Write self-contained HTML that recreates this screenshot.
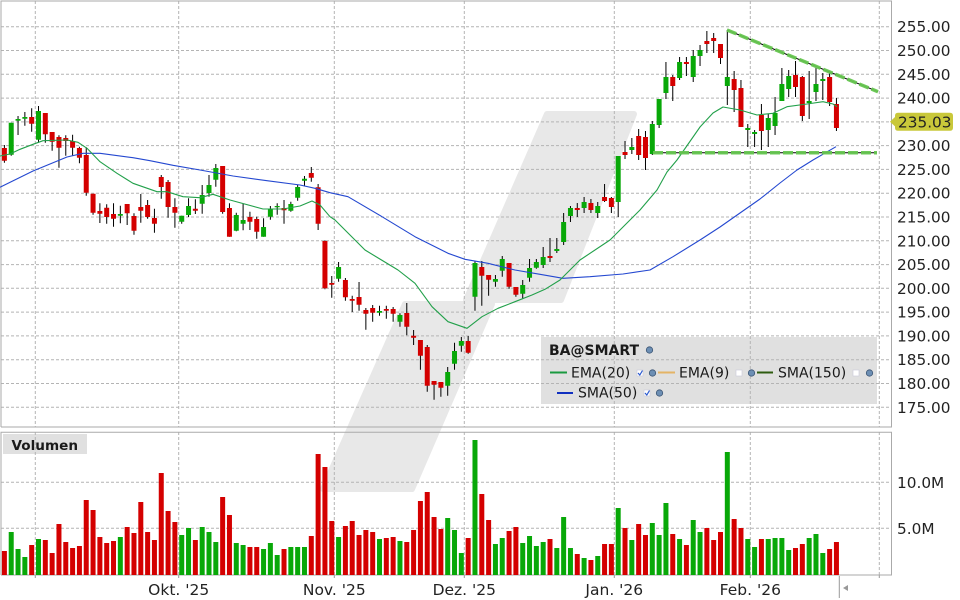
<!DOCTYPE html>
<html><head><meta charset="utf-8"><style>
html,body{margin:0;padding:0;background:#fff;}
svg{display:block;font-family:"DejaVu Sans","Liberation Sans",sans-serif;}
</style></head><body>
<svg width="960" height="600" viewBox="0 0 960 600" xmlns="http://www.w3.org/2000/svg">
<rect width="960" height="600" fill="#fff"/>
<!-- watermark -->
<g fill="#e8e8e8" stroke="#e8e8e8" stroke-width="6" stroke-linejoin="round">
<polygon points="547,114 634,114 561,300 466,300"/>
<polygon points="405,304 492,304 412,489 323,489"/>
</g>
<!-- legend box -->
<rect x="541" y="337" width="336" height="67" fill="#e0e0e0"/>
<!-- volume label box -->
<rect x="3" y="434" width="84" height="20" fill="#e0e0e0"/>
<!-- grid -->
<g stroke="#b4b4b4" stroke-width="1" stroke-dasharray="3,2" fill="none">
<path d="M1 26.7H891M1 50.5H891M1 74.3H891M1 98.1H891M1 121.85H891M1 145.6H891M1 169.4H891M1 193.2H891M1 217H891M1 240.8H891M1 264.6H891M1 288.3H891M1 312.1H891M1 335.9H891M1 359.7H891M1 383.5H891M1 407.3H891"/>
<path d="M35.3 1V427M178.7 1V427M334.3 1V427M464.3 1V427M614.3 1V427M750.3 1V427M879.3 1V427"/>
<path d="M35.3 432V575M178.7 432V575M334.3 432V575M464.3 432V575M614.3 432V575M750.3 432V575M879.3 432V575"/>
<path d="M1 482.3H891M1 528.3H891"/>
</g>
<!-- ticks -->
<g stroke="#999" stroke-width="1">
<path d="M178.7 575V578M334.3 575V578M464.3 575V578M614.3 575V578M750.3 575V578M879.3 575V578M35.3 575V578"/>
</g>
<!-- panel borders -->
<g stroke="#aaaaaa" stroke-width="1" fill="none">
<path d="M1 427V1H891.5V427H1"/>
<path d="M1 575V432.3H891.5V575H1"/>
</g>
<!-- volume bars + candles in index space -->
<g transform="translate(4.4 0) scale(6.82 1)" fill="none">
<path stroke="#08a808" stroke-width="0.733" d="M1 532V575M2 549V575M3 557V575M5 539V575M17 537V575M26 535V575M27 528V575M29 527V575M30 532V575M31 542V575M34 543V575M35 545V575M38 549V575M39 543V575M40 555V575M42 547V575M43 547V575M44 547V575M49 537V575M55 539V575M58 541V575M65 518V575M66 530V575M67 553V575M69 440V575M72 544V575M73 538V575M76 543V575M77 536V575M78 546V575M79 542V575M81 548V575M82 517V575M83 548V575M85 558V575M87 556V575M90 508V575M92 540V575M95 523V575M96 535V575M97 503V575M99 539V575M101 520V575M102 532V575M106 452V575M109 539V575M110 547V575M112 539V575M113 538V575M114 538V575M115 550V575M118 538V575M119 534V575M120 553V575"/>
<path stroke="#d40000" stroke-width="0.733" d="M0 551V575M4 545V575M6 540V575M7 553V575M8 524V575M9 542V575M10 548V575M11 546V575M12 500V575M13 510V575M14 537V575M15 543V575M16 541V575M18 527V575M19 533V575M20 502V575M21 532V575M22 540V575M23 473V575M24 511V575M25 522V575M28 540V575M32 497V575M33 515V575M36 547V575M37 547V575M41 549V575M45 536V575M46 454V575M47 467V575M48 521V575M50 526V575M51 521V575M52 535V575M53 530V575M54 532V575M56 538V575M57 537V575M59 542V575M60 530V575M61 501V575M62 492V575M63 517V575M64 529V575M68 538V575M70 494V575M71 520V575M74 531V575M75 527V575M80 539V575M84 554V575M86 560V575M88 544V575M89 544V575M91 528V575M93 524V575M94 535V575M98 534V575M100 545V575M103 528V575M104 540V575M105 532V575M107 519V575M108 528V575M111 539V575M116 548V575M117 544V575M121 549V575M122 542V575"/>
<!-- wicks -->
<path stroke="#000" stroke-width="0.1466" d="M0 145V162.7M1 122.7V155.7M2 116V135M3 112V125.7M4 108.3V131.7M5 106V142.7M6 113V142.7M7 132V150.7M8 135.3V167.7M9 135.3V155.7M10 134.7V155.7M11 146.7V163.3M12 147.3V195.7M13 193.7V214.7M14 203.3V223M15 204.3V223.7M16 203.3V226.7M17 205.7V223.3M18 204V225M19 213.3V234.7M20 194V222.7M21 200V218.7M22 208.7V232.7M23 175V198.7M24 180V217.7M25 198.3V227.7M26 215.7V223.7M27 198.3V217M28 199.3V214M29 185V213.7M30 175V196.7M31 164V186.7M32 166V213.7M33 203.3V236.7M34 212.7V231.3M35 203.7V230.3M36 211.7V230M37 216.7V238.7M38 218.3V236.7M39 206V219.7M40 203.3V214.7M41 200V223.7M42 201.7V211.7M43 185V200.7M44 176V186.3M45 167V181.7M46 184V230M47 240.3V289.3M48 276V297.7M49 262V281.7M50 278V300.7M51 295.7V312M52 282V310.7M53 308V329.7M54 305V321.7M55 305.7V315.7M56 305.7V318.7M57 307V321.7M58 313.3V326.7M59 303V335.3M60 330V345M61 340V369.7M62 345V391.7M63 381V399.7M64 382V396.7M65 367V395.7M66 342.7V369.7M67 337V351.7M68 336V353.7M69 261V310.7M70 261V305.7M71 275V295.7M72 275V286.7M73 256V276.7M74 263V288.7M75 287V296.7M76 280V298.7M77 259V281.7M78 259V268.7M79 247V268M80 238V262M81 238V253M82 213V245M83 206V222M84 203V217M85 197V213M86 199V213M87 202V218M88 184V202M89 197V213M90 156V217M91 141V159M92 138V154M93 129V160M94 131V170M95 121V155M96 99V128M97 62V99M98 75V101M99 57V80M100 57V76M101 50V82M102 45V66M103 31V53M104 33V53M105 44V64M106 30V105M107 71V112M108 80V127M109 124V147M110 130V147M111 104V150M112 114V147M113 97V135M114 68V101M115 70V97M116 61V97M117 76V121M118 71V119M119 68V101M120 73V100M121 73V106M122 98V131"/>
<!-- green bodies -->
<path stroke="#08a808" stroke-width="0.733" d="M1 122.7V154.7M2 119V120.7M3 117V118.7M5 111V139.7M17 214V215.7M26 215.7V221.7M27 206V215M29 195V203.7M30 185V193M31 168V179.7M34 215V230.7M35 220V223.7M38 227V236.7M39 209V216.7M40 206V207.3M42 204V210.7M43 187V197.7M44 178.7V180.7M49 267V278.7M55 311V312.7M58 315V321.7M65 372V385.7M66 351V363.7M67 341V345.7M69 263V296.7M72 279V281.7M73 259V270.7M76 285V293.7M77 268V277.7M78 262V267.7M79 257V265M81 249V251M82 222V242M83 208V216M85 202V208M87 206V213M90 156V202M92 147V150M95 124V154M96 99V125M97 77V93M99 62V78M101 56V77M102 50V56M106 77V86M109 128V130M110 132V134M112 118V130M113 113V126M114 84V101M115 76V89M118 101V103M119 84V92M120 79V81"/>
<!-- red bodies -->
<path stroke="#d40000" stroke-width="0.733" d="M0 148V160.7M4 117V123.7M6 113V134.3M7 132V141.7M8 137V147.7M9 138V141M10 141V147.7M11 148V157.7M12 155V192.7M13 193.7V212.7M14 211V213.7M15 207.7V217M16 214V218.7M18 204V213.3M19 216V230.7M20 207V210.7M21 205V217M22 218V223.7M23 177V187M24 182V207M25 207V212.7M28 208.7V210.7M32 166V212M33 208V236.7M36 217V221.7M37 219V231.7M41 208V210.3M45 173V177.7M46 187.3V223.7M47 241V288.3M48 283V284.7M50 280V297.3M51 299V300.7M52 297V304.7M53 310V313.7M54 308V312.7M56 309V310.7M57 309V313.7M59 313V326.7M60 335.7V337.7M61 340V355.7M62 347V385.7M63 381V384.7M64 382V387.7M68 341V352.7M70 267V275.7M71 275V279.7M74 263V286.7M75 287V294.7M80 256V258M84 208V210M86 203V210M88 197V201M89 198V207M91 152V155M93 136V155M94 137V158M98 77V86M100 62V64M103 41V44M104 38V41M105 44V58M107 79V90M108 88V127M111 115V131M116 75V87M117 77V116M121 77V102M122 104V128"/>
</g>
<!-- SMA50 -->
<polyline fill="none" stroke="#2448d0" stroke-width="1.1" stroke-linejoin="round" points="0,187.3 33,171 67,157 83,153.3 100,153.3 133,157.7 150,160.7 173,165.3 200,170 233,176 267,180.7 300,185 315,188.3 330,192.7 348,196.7 382,216.7 415,236.7 448,253.3 465,259.3 488,263.3 515,270 540,274.3 563,278.3 590,276.7 623,274 650,270 673,256.7 700,240 720,227 740,213 760,199 780,183 797,170 813,160 836,146.7"/>
<!-- EMA20 -->
<polyline fill="none" stroke="#22a04a" stroke-width="1.1" stroke-linejoin="round" points="0,156 10,154 20,149.3 33,144.3 43,140.7 67,140 78,142.3 87,148.3 100,161.7 117,173.3 133,183.3 157,191.7 167,191.7 183,196.7 200,197.7 213,194.3 230,200 263,209 283,209 300,206 312,201 320,205 330,216.7 335,220 365,250 398,270 415,283.3 432,306.7 448,321.7 467,328.3 482,316.7 498,308.3 515,301.7 532,295 545,289.3 560,280 580,260 610,240 640,210 657,190 667,172 677,160 700,127 713,113 723,107 740,110 757,115 773,113.3 787,106.7 807,104 823,101.7 833,104 837,106.7"/>
<!-- trendlines -->
<g fill="none">
<path d="M727 30L878 91.7M653 152.7H877" stroke="#000" stroke-width="1"/>
<path d="M727 30L878 91.7M653 152.7H877" stroke="#66c650" stroke-width="3.5" stroke-dasharray="10,3" opacity="0.95"/>
</g>
<!-- y axis labels -->
<g font-size="15.3" fill="#222">
<text x="897" y="32.2">255.00</text>
<text x="897" y="56">250.00</text>
<text x="897" y="79.8">245.00</text>
<text x="897" y="103.6">240.00</text>
<text x="897" y="151.1">230.00</text>
<text x="897" y="174.9">225.00</text>
<text x="897" y="198.7">220.00</text>
<text x="897" y="222.5">215.00</text>
<text x="897" y="246.3">210.00</text>
<text x="897" y="270.1">205.00</text>
<text x="897" y="293.8">200.00</text>
<text x="897" y="317.6">195.00</text>
<text x="897" y="341.4">190.00</text>
<text x="897" y="365.2">185.00</text>
<text x="897" y="389">180.00</text>
<text x="897" y="412.8">175.00</text>
<text x="897" y="487.8">10.0M</text>
<text x="897" y="533.8">5.0M</text>
</g>
<!-- price tag -->
<path d="M890 121.7L895 117V115.7Q895 112.7 898 112.7H950Q953 112.7 953 115.7V127.7Q953 130.7 950 130.7H898Q895 130.7 895 127.7V126.4Z" fill="#c9c83a"/>
<text x="898" y="127.3" font-size="15.3" fill="#222">235.03</text>
<!-- x labels -->
<g font-size="15.5" fill="#222" text-anchor="middle">
<text x="178.7" y="595">Okt. '25</text>
<text x="334.3" y="595">Nov. '25</text>
<text x="464.3" y="595">Dez. '25</text>
<text x="614.3" y="595">Jan. '26</text>
<text x="750.3" y="595">Feb. '26</text>
</g>
<!-- current marker -->
<path d="M839.3 576V598" stroke="#999" stroke-width="1"/>
<polygon points="843,588 848,585 848,591" fill="#999"/>
<!-- Volumen -->
<text x="11.5" y="450" font-size="13.6" font-weight="bold" fill="#1a1a1a">Volumen</text>
<!-- legend -->
<g font-size="14" fill="#1a1a1a">
<text x="549" y="355" font-weight="bold">BA@SMART</text>
<circle cx="649.5" cy="350" r="3.2" fill="#6d8fb4" stroke="#3b5574" stroke-width="0.8"/>
<path d="M550 372.5H567" stroke="#1a9a40" stroke-width="2"/>
<text x="571" y="377.3">EMA(20)</text>
<rect x="637" y="370" width="6" height="6" fill="#fff" stroke="#c8c8d8" stroke-width="0.6"/>
<path d="M638 373L639.8 375L642.5 370.5" stroke="#2a5ad0" stroke-width="1.2" fill="none"/>
<circle cx="652.5" cy="373" r="3.2" fill="#6d8fb4" stroke="#3b5574" stroke-width="0.8"/>
<path d="M658 372.5H675" stroke="#e4b466" stroke-width="2"/>
<text x="679" y="377.3">EMA(9)</text>
<rect x="736" y="370" width="6" height="6" fill="#fff" stroke="#c8c8d8" stroke-width="0.6"/>
<circle cx="751.5" cy="373" r="3.2" fill="#6d8fb4" stroke="#3b5574" stroke-width="0.8"/>
<path d="M757 372.5H773" stroke="#2e5c10" stroke-width="2"/>
<text x="778" y="377.3">SMA(150)</text>
<rect x="853" y="370" width="6" height="6" fill="#fff" stroke="#c8c8d8" stroke-width="0.6"/>
<circle cx="869.5" cy="373" r="3.2" fill="#6d8fb4" stroke="#3b5574" stroke-width="0.8"/>
<path d="M557 393H573" stroke="#1030c0" stroke-width="2"/>
<text x="578" y="397.7">SMA(50)</text>
<rect x="644" y="390" width="6" height="6" fill="#fff" stroke="#c8c8d8" stroke-width="0.6"/>
<path d="M645 393L646.8 395L649.5 390.5" stroke="#2a5ad0" stroke-width="1.2" fill="none"/>
<circle cx="659.5" cy="393" r="3.2" fill="#6d8fb4" stroke="#3b5574" stroke-width="0.8"/>
</g>
</svg>
</body></html>
